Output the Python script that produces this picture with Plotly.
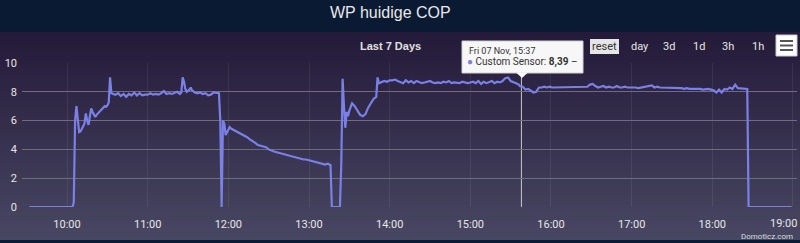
import plotly.graph_objects as go

DAY = "2025-11-07"

times = [
    "09:32", "10:04", "10:05", "10:06", "10:07", "10:08", "10:09", "10:10", "10:11", "10:12",
    "10:13", "10:14", "10:15", "10:16", "10:17", "10:18", "10:19", "10:20", "10:21", "10:22",
    "10:23", "10:24", "10:25", "10:26", "10:27", "10:28", "10:29", "10:30", "10:31", "10:32",
    "10:33", "10:34", "10:36", "10:38", "10:40", "10:42", "10:44", "10:46", "10:48", "10:50",
    "10:52", "10:54", "10:56", "10:58", "11:00", "11:02", "11:04", "11:06", "11:08", "11:10",
    "11:12", "11:14", "11:16", "11:18", "11:20", "11:22", "11:24", "11:25", "11:26", "11:27",
    "11:28", "11:29", "11:31", "11:32", "11:33", "11:35", "11:37", "11:39", "11:41", "11:43",
    "11:45", "11:47", "11:49", "11:51", "11:53", "11:54", "11:55", "11:56", "11:57", "11:58",
    "11:59", "12:00", "12:01", "12:02", "12:04", "12:06", "12:08", "12:10", "12:12", "12:14",
    "12:16", "12:18", "12:20", "12:22", "12:24", "12:26", "12:28", "12:30", "12:32", "12:34",
    "12:36", "12:38", "12:40", "12:42", "12:44", "12:46", "12:48", "12:50", "12:52", "12:54",
    "12:56", "12:58", "13:00", "13:02", "13:04", "13:06", "13:08", "13:10", "13:12", "13:14",
    "13:16", "13:17", "13:23", "13:24", "13:25", "13:26", "13:27", "13:28", "13:29", "13:30",
    "13:31", "13:32", "13:34", "13:36", "13:38", "13:40", "13:42", "13:44", "13:46", "13:48",
    "13:50", "13:51", "13:52", "13:54", "13:56", "13:58", "14:00", "14:02", "14:04", "14:06",
    "14:08", "14:10", "14:12", "14:14", "14:16", "14:18", "14:20", "14:22", "14:24", "14:26",
    "14:28", "14:30", "14:32", "14:34", "14:36", "14:38", "14:40", "14:42", "14:44", "14:46",
    "14:48", "14:50", "14:52", "14:54", "14:56", "14:58", "15:00", "15:02", "15:04", "15:06",
    "15:08", "15:10", "15:12", "15:14", "15:16", "15:18", "15:20", "15:22", "15:24", "15:26",
    "15:28", "15:30", "15:32", "15:34", "15:36", "15:37", "15:39", "15:41", "15:43", "15:45",
    "15:47", "15:49", "15:51", "15:53", "15:55", "15:57", "15:59", "16:01", "16:03", "16:05",
    "16:07", "16:09", "16:11", "16:13", "16:15", "16:17", "16:19", "16:21", "16:23", "16:25",
    "16:27", "16:29", "16:31", "16:33", "16:35", "16:37", "16:39", "16:41", "16:43", "16:45",
    "16:47", "16:49", "16:51", "16:53", "16:55", "16:57", "16:59", "17:01", "17:03", "17:05",
    "17:07", "17:09", "17:11", "17:13", "17:15", "17:17", "17:19", "17:21", "17:23", "17:25",
    "17:27", "17:29", "17:31", "17:33", "17:35", "17:37", "17:39", "17:41", "17:43", "17:45",
    "17:47", "17:49", "17:51", "17:53", "17:55", "17:57", "17:59", "18:01", "18:03", "18:05",
    "18:07", "18:09", "18:11", "18:13", "18:15", "18:17", "18:19", "18:21", "18:23", "18:25",
    "18:26", "18:27", "18:59",
]

cop = [
    0, 0, 0.3, 6.0, 7.0, 6.2, 5.2, 5.25, 5.4, 5.6,
    5.8, 6.5, 6.0, 5.7, 6.3, 6.85, 6.6, 6.4, 6.25, 6.4,
    6.5, 6.6, 6.7, 6.8, 6.9, 7.0, 6.95, 7.05, 7.25, 9.0,
    7.9, 7.85, 7.8, 7.9, 7.7, 7.85, 7.65, 7.85, 7.75, 7.95,
    7.75, 7.9, 7.75, 7.8, 7.8, 7.9, 7.8, 7.85, 7.8, 7.9,
    8.05, 7.85, 7.9, 7.85, 7.95, 8.0, 7.85, 7.95, 9.0, 8.7,
    8.2, 8.0, 8.15, 8.3, 8.1, 7.95, 7.9, 7.95, 7.85, 7.9,
    7.75, 7.8, 7.95, 7.95, 7.9, 6.0, 0, 6.0, 5.8, 5.0,
    5.2, 5.35, 5.55, 5.45, 5.35, 5.3, 5.15, 5.05, 4.95, 4.85,
    4.7, 4.6, 4.45, 4.3, 4.25, 4.2, 4.15, 4.0, 3.9, 3.85,
    3.8, 3.75, 3.65, 3.6, 3.55, 3.5, 3.5, 3.45, 3.4, 3.35,
    3.3, 3.3, 3.25, 3.2, 3.15, 3.1, 3.05, 3.0, 2.95, 3.0,
    2.9, 0, 0, 3.0, 8.9, 7.0, 5.5, 6.6, 6.3, 6.7,
    7.0, 7.2, 7.0, 6.7, 6.4, 6.3, 6.45, 6.9, 7.25, 7.5,
    7.65, 9.0, 8.6, 8.65, 8.75, 8.7, 8.8, 8.8, 8.85, 8.75,
    8.7, 8.6, 8.8, 8.65, 8.75, 8.6, 8.75, 8.7, 8.6, 8.65,
    8.7, 8.75, 8.65, 8.6, 8.65, 8.6, 8.7, 8.65, 8.75, 8.6,
    8.65, 8.6, 8.6, 8.7, 8.65, 8.6, 8.65, 8.7, 8.6, 8.75,
    8.55, 8.7, 8.6, 8.65, 8.75, 8.6, 8.7, 8.65, 8.75, 8.95,
    9.0, 8.75, 8.7, 8.6, 8.5, 8.39, 8.35, 8.15, 8.2, 8.05,
    7.95, 8.0, 8.3, 8.3, 8.35, 8.3, 8.35, 8.3, 8.3, 8.35,
    8.3, 8.3, 8.35, 8.3, 8.3, 8.35, 8.3, 8.3, 8.35, 8.3,
    8.35, 8.5, 8.55, 8.4, 8.3, 8.35, 8.4, 8.3, 8.35, 8.3,
    8.3, 8.4, 8.3, 8.3, 8.35, 8.3, 8.3, 8.35, 8.3, 8.25,
    8.3, 8.3, 8.35, 8.4, 8.45, 8.3, 8.35, 8.3, 8.3, 8.25,
    8.3, 8.3, 8.25, 8.25, 8.3, 8.25, 8.2, 8.25, 8.2, 8.2,
    8.25, 8.2, 8.2, 8.15, 8.2, 8.2, 8.15, 8.1, 7.95, 8.15,
    7.95, 8.2, 8.15, 8.3, 8.2, 8.5, 8.25, 8.25, 8.2, 8.2,
    8.2, 0, 0,
]

y_ticks = [0, 2, 4, 6, 8, 10]
hour_ticks = ["10:00", "11:00", "12:00", "13:00", "14:00", "15:00", "16:00", "17:00", "18:00", "19:00"]
range_buttons = ["day", "3d", "1d", "3h", "1h"]

title = "WP huidige COP"
subtitle = "Last 7 Days"
tip_time = "Fri 07 Nov, 15:37"
tip_series = "Custom Sensor"
tip_value = "8,39"

W, H = 800, 243
L, R, T, B = 22, 3, 63, 36
PW, PH = W - L - R, H - T - B


def px(x):
    return (x - L) / PW


def py(y):
    return (H - B - y) / PH


LINE = "#7a80e6"

fig = go.Figure()
fig.add_trace(go.Scatter(
    x=[f"{DAY} {t}" for t in times], y=cop, mode="lines",
    line=dict(color=LINE, width=2.2), hoverinfo="skip", showlegend=False,
))

shapes = []
# gradient chart background
top, bot = 32, 240
n = 52
c0, c1 = (36, 26, 57), (72, 71, 98)
for i in range(n):
    f = i / (n - 1)
    col = tuple(round(c0[k] + (c1[k] - c0[k]) * f) for k in range(3))
    y0 = top + (bot - top) * i / n
    y1 = top + (bot - top) * (i + 1) / n + 0.6
    shapes.append(dict(type="rect", xref="paper", yref="paper", layer="below",
                       x0=px(0), x1=px(W), y0=py(y1), y1=py(y0),
                       line=dict(width=0), fillcolor=f"rgb{col}"))
shapes.append(dict(type="rect", xref="paper", yref="paper", layer="below",
                   x0=px(0), x1=px(W), y0=py(H), y1=py(bot),
                   line=dict(width=0), fillcolor="#0c1a34"))

# reset button
shapes.append(dict(type="rect", xref="paper", yref="paper", layer="below",
                   x0=px(590), x1=px(619), y0=py(54), y1=py(39),
                   line=dict(width=0), fillcolor="#e6e6e6"))
# menu button
shapes.append(dict(type="rect", xref="paper", yref="paper",
                   x0=px(776), x1=px(797), y0=py(56), y1=py(35),
                   line=dict(color="#cccccc", width=1), fillcolor="#ffffff"))
for yy in (41, 45.5, 50):
    shapes.append(dict(type="line", xref="paper", yref="paper",
                       x0=px(780), x1=px(793), y0=py(yy), y1=py(yy),
                       line=dict(color="#555555", width=2)))

# crosshair
shapes.append(dict(type="line", xref="x", yref="paper", layer="below",
                   x0=f"{DAY} 15:38", x1=f"{DAY} 15:38", y0=0, y1=py(76),
                   line=dict(color="#c8c8c8", width=1)))
# tooltip box
shapes.append(dict(type="rect", xref="paper", yref="paper",
                   x0=px(462), x1=px(583), y0=py(73), y1=py(41),
                   line=dict(color="#d0d0d0", width=1), fillcolor="rgb(247,247,247)"))
shapes.append(dict(type="path", xref="paper", yref="paper",
                   path=f"M {px(516)},{py(72.5)} L {px(522)},{py(78)} L {px(528)},{py(72.5)} Z",
                   line=dict(width=0), fillcolor="rgb(247,247,247)"))


def txt(text, x, y, size, color, xanchor="center", family="Roboto"):
    return dict(text=text, x=px(x), y=py(y), xref="paper", yref="paper", showarrow=False,
                xanchor=xanchor, yanchor="middle",
                font=dict(family=family, size=size, color=color))


ann = [
    txt(title, 390, 13, 16, "#e8e8e8", family="Liberation Sans, Arial"),
    txt(f"<b>{subtitle}</b>", 390, 46, 11, "#e0e0e0", family="Liberation Sans, Arial"),
    txt("reset", 604.5, 46.5, 11, "#333333"),
]
for lbl, xx in zip(range_buttons, [640, 669, 699, 728, 758]):
    ann.append(txt(lbl, xx, 46.5, 11, "#e6e6e6"))
ann.append(txt(tip_time, 467, 51, 9, "#333333", xanchor="left"))
ann.append(txt(f"<span style='color:{LINE}'>●</span> {tip_series}: <b>{tip_value}</b> \u2013",
               465, 62.5, 10, "#333333", xanchor="left"))
ann.append(txt(hour_ticks[-1], 783, 223, 11, "#e6e6e6"))
ann.append(txt("Domoticz.com", 795, 236, 8, "#dddddd", xanchor="right"))

fig.update_layout(
    width=W, height=H, margin=dict(l=L, r=R, t=T, b=B),
    paper_bgcolor="#0b1a33", plot_bgcolor="rgba(0,0,0,0)",
    shapes=shapes, annotations=ann, hovermode=False,
    xaxis=dict(type="date", range=[f"{DAY} 09:26:30", f"{DAY} 19:03:00"],
               tickvals=[f"{DAY} {h}" for h in hour_ticks],
               ticktext=hour_ticks[:-1] + [""],
               showgrid=True, gridcolor="rgba(255,255,255,0.07)", gridwidth=1,
               zeroline=False, showline=False, ticks="", ticklabelstandoff=9,
               tickfont=dict(family="Roboto", size=11, color="#e6e6e6")),
    yaxis=dict(range=[0, 10], tickvals=y_ticks, showgrid=True, gridcolor="#6e6c7e", gridwidth=1,
               zeroline=False, showline=False, ticks="", ticklabelstandoff=4,
               tickfont=dict(family="Roboto", size=11, color="#e6e6e6")),
)

fig.write_html("out.html", config={"displayModeBar": False})
